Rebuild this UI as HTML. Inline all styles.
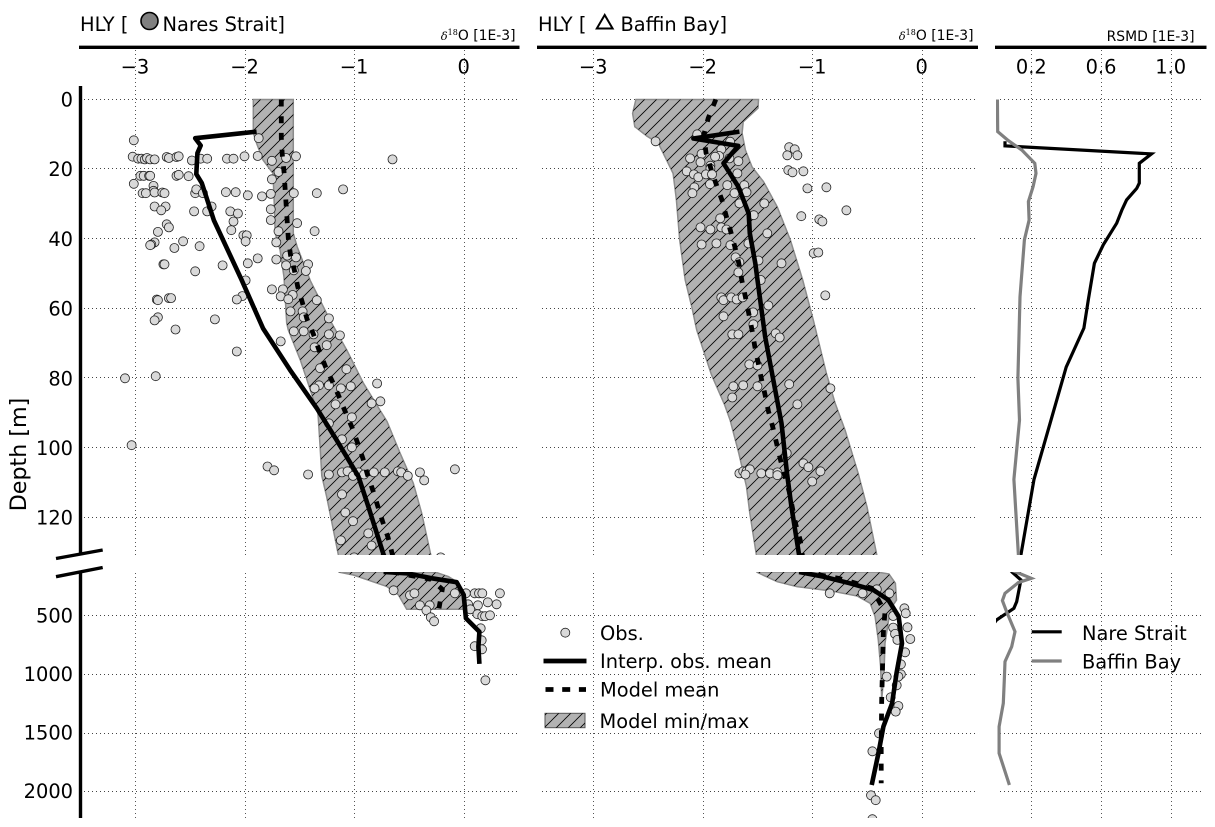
<!DOCTYPE html>
<html lang="en">
<head>
<meta charset="utf-8">
<title>HLY delta-18O depth profiles</title>
<style>
html,body{margin:0;padding:0;background:#fff;width:1215px;height:827px;overflow:hidden}
svg{display:block;font-family:"DejaVu Sans","Liberation Sans",sans-serif;fill:#000}
</style>
</head>
<body>
<svg id="chart" xmlns="http://www.w3.org/2000/svg" width="1215" height="827" viewBox="0 0 1215 827">
<defs>
<pattern id="hatch" patternUnits="userSpaceOnUse" width="12" height="12">
<path d="M-3,3 L3,-3 M0,12 L12,0 M9,15 L15,9" stroke="#000" stroke-width="0.8" fill="none"/>
</pattern>
<clipPath id="clip-nare-upper"><rect x="80" y="50" width="438" height="505"/></clipPath>
<clipPath id="clip-nare-lower"><rect x="80" y="572" width="438" height="246"/></clipPath>
<clipPath id="clip-baffin-upper"><rect x="538" y="50" width="438" height="505"/></clipPath>
<clipPath id="clip-baffin-lower"><rect x="538" y="572" width="438" height="246"/></clipPath>
<clipPath id="clip-rsmd-upper"><rect x="996" y="50" width="210" height="505"/></clipPath>
<clipPath id="clip-rsmd-lower"><rect x="996" y="572" width="210" height="246"/></clipPath>
</defs>
<g id="grid"></g>
<g id="plots"></g>
<g id="ticks" font-size="19.4"></g>

<g stroke="#000" fill="none">
<line x1="79" x2="519.5" y1="47.3" y2="47.3" stroke-width="3.4"/>
<line x1="537" x2="978" y1="47.3" y2="47.3" stroke-width="3.4"/>
<line x1="995" x2="1206.5" y1="47.3" y2="47.3" stroke-width="3.4"/>
<line x1="80.5" x2="80.5" y1="86" y2="555" stroke-width="3.4"/>
<line x1="80.5" x2="80.5" y1="572.5" y2="818" stroke-width="3.4"/>
<line x1="56" y1="558.5" x2="102.7" y2="550" stroke-width="3.4"/>
<line x1="56" y1="576.7" x2="102.7" y2="567.5" stroke-width="3.4"/>
</g>

<text transform="translate(26,454.5) rotate(-90)" text-anchor="middle" font-size="22.2">Depth [m]</text>

<text x="80" y="31" font-size="19.4">HLY [</text>
<circle cx="149.5" cy="21" r="8.5" fill="#808080" stroke="#000" stroke-width="1.6"/>
<text x="162.5" y="31" font-size="19.4">Nares Strait]</text>
<text x="515.5" y="40" text-anchor="end" font-size="13.9"><tspan font-family="'DejaVu Serif',serif" font-style="italic" font-size="11.5">δ</tspan><tspan font-family="'DejaVu Serif',serif" font-size="8" dy="-5">18</tspan><tspan dy="5">O [1E-3]</tspan></text>

<text x="538" y="31" font-size="19.4">HLY [</text>
<polygon points="604.7,15 596.8,28.5 612.6,28.5" fill="none" stroke="#000" stroke-width="2"/>
<text x="620.5" y="31" font-size="19.4">Baffin Bay]</text>
<text x="973.5" y="40" text-anchor="end" font-size="13.9"><tspan font-family="'DejaVu Serif',serif" font-style="italic" font-size="11.5">δ</tspan><tspan font-family="'DejaVu Serif',serif" font-size="8" dy="-5">18</tspan><tspan dy="5">O [1E-3]</tspan></text>

<text x="1194.5" y="41" text-anchor="end" font-size="13.9">RSMD [1E-3]</text>

<g font-size="19.4">
<g>
<circle cx="565.3" cy="632.7" r="4.5" fill="#d9d9d9" stroke="#222" stroke-width="0.8"/>
<text x="600" y="640">Obs.</text>
</g>
<g>
<line x1="543.5" x2="586.5" y1="661" y2="661" stroke="#000" stroke-width="4.8"/>
<text x="600" y="668">Interp. obs. mean</text>
</g>
<g>
<line x1="545.5" x2="586" y1="689.5" y2="689.5" stroke="#000" stroke-width="4.8" stroke-dasharray="8 8.7"/>
<text x="600" y="696.5">Model mean</text>
</g>
<g>
<rect x="545" y="713.3" width="40" height="14.4" fill="#b2b2b2" stroke="#555" stroke-width="1"/>
<rect x="545" y="713.3" width="40" height="14.4" fill="url(#hatch)"/>
<text x="599.5" y="728">Model min/max</text>
</g>
</g>

<g font-size="19.4">
<g>
<line x1="1031.7" x2="1061.7" y1="631.8" y2="631.8" stroke="#000" stroke-width="3.2"/>
<text x="1082" y="640">Nare Strait</text>
</g>
<g>
<line x1="1031.7" x2="1061.7" y1="661" y2="661" stroke="#808080" stroke-width="3.2"/>
<text x="1082" y="668.5">Baffin Bay</text>
</g>
</g>
</svg>

<script>
/* ---------- tick values ---------- */
const deltaTicks = [-3, -2, -1, 0];
const deltaTickLabels = ['\u22123', '\u22122', '\u22121', '0'];
const rsmdTicks = [0.2, 0.6, 1.0];
const rsmdTickLabels = ['0.2', '0.6', '1.0'];
const upperDepthTicks = [0, 20, 40, 60, 80, 100, 120];
const lowerDepthTicks = [500, 1000, 1500, 2000];

/* ---------- Nares Strait ---------- */
const nareObsDelta = [-3.01,-3.02,-2.97,-2.94,-2.91,-2.89,-2.86,-2.82,-2.71,-2.69,-2.62,-2.60,-2.48,-2.40,-2.34,-2.16,-2.10,-2.00,-1.88,-1.75,-1.62,-1.53,-0.65,-1.87,
-2.95,-2.92,-2.87,-2.86,-2.62,-2.60,-2.51,-1.69,-1.75,-3.01,-2.83,-2.83,-2.93,-2.90,-2.82,-2.75,-2.73,-2.45,-2.44,-2.38,-2.17,-2.08,-1.97,-1.84,-1.76,-1.55,-1.34,-1.10,
-2.82,-2.72,-2.76,-2.46,-2.34,-2.30,-2.13,-2.06,-1.76,-1.76,-2.10,-1.52,-2.71,-2.69,-2.79,-2.12,-1.36,-1.69,-2.01,-1.98,-1.99,-1.71,-2.56,-2.82,-2.85,-2.86,-2.64,-2.41,
-1.88,-1.71,-1.61,-1.53,-2.74,-2.73,-2.20,-1.97,-1.62,-1.42,-1.44,-1.55,-2.45,-1.99,
-1.75,-1.65,-1.56,-1.67,-1.60,-1.34,-2.02,-2.07,-2.80,-2.79,-2.69,-2.67,-1.58,-1.47,-1.46,-1.23,-2.79,-2.82,-2.27,-2.63,-1.55,-1.46,-1.37,-1.23,-1.13,-1.67,-2.07,-1.36,-1.25,
-1.31,-1.07,-3.09,-2.81,-0.79,-1.32,-1.23,-1.36,-1.12,-1.03,-1.17,-0.84,-0.76,-1.02,-1.23,-3.03,-1.11,-1.02,-1.79,-1.73,-1.42,-1.23,-1.11,-1.06,-1.01,-0.96,-0.91,-0.82,-0.72,-0.60,-0.57,-0.51,-0.40,-0.36,-0.08,
-1.11,-1.08,-1.01,-0.87,-1.12,-0.84,-1.00,-0.21,
-0.64,-0.49,-0.45,-0.08,-0.40,-0.31,-0.34,-0.30,-0.27,0.02,0.10,0.14,0.17,0.33,0.22,0.30,0.04,0.13,0.06,0.125,0.17,0.195,0.24,0.155,0.164,0.10,0.167,0.198];
const nareObsDepth = [11.7,16.4,17,17,17.2,16.8,17.2,17.2,16.5,16.8,16.5,16.3,17.5,17,17,17,17,16.3,16.2,17.6,16.8,16.3,17.2,11.1,
21.9,21.9,21.9,21.9,21.9,21.6,22,20.8,22.9,24.2,24.8,26.2,26.9,26.9,26.7,26.7,26.9,26.9,25.8,26.9,26.6,26.6,27.5,27.8,27.1,26.9,26.9,25.8,
30.7,30.7,31.8,32.1,32.1,30.7,32.1,32.7,31.5,34.6,35,35.5,35.8,36.7,38,37.5,37.8,37.8,39,39,40.7,41,40.7,41,41.6,41.8,42.6,42.1,
45.6,45.9,44.8,45.3,47.3,47.3,47.6,47,47.6,47.3,49.2,49,49.3,51.9,
54.5,54.5,56.1,56.5,57.3,57.6,56.4,57.4,57.4,57.6,57,57,60.8,60.8,62.5,62.8,62.5,63.4,63.1,66,66.5,66.5,67.4,67.4,67.7,69.4,72.3,71.1,70.5,
77.1,77.4,80,79.4,81.5,82,82,82.9,82.9,82.3,87.5,87.2,86.6,91.2,92.9,99.2,97.5,99.8,105.3,106.4,107.6,107.6,107,106.7,108,107,107.6,107,107,106.7,107,108,107,109.3,106.1,
113.3,118.5,121,124.5,126.5,128,131.4,131.4,
287,329,312,312,415,415,457,517,551,312,312,312,312,312,389,406,406,415,449,491,508,508,500,611,713,764,790,1055];
const nareMeanDelta = [-1.89,-2.45,-2.40,-2.43,-2.44,-2.39,-2.28,-2.03,-1.83,-1.585,-1.34,-1.16,-0.96,-0.87,-0.73,-0.52,-0.29,-0.064,0,0.02,0.143,0.134,0.143];
const nareMeanDepth = [9.2,11.1,13.2,15.4,21.4,24,34.6,51.5,65.7,77.6,88.6,97.7,108.2,116.8,130.7,142,184,218,326,526,640,767,915];
const nareModelDelta = [-1.664,-1.664,-1.655,-1.64,-1.62,-1.61,-1.60,-1.58,-1.545,-1.515,-1.47,-1.43,-1.37,-1.32,-1.265,-1.20,-1.14,-1.08,-1.02,-0.97,-0.92,-0.88,-0.83,-0.785,-0.74,-0.69,-0.65,-0.30,-0.195,-0.225];
const nareModelDepth = [0,11,16,20.7,30,35,39.8,44.6,49,53.7,58.5,63,67.4,71.9,76.4,80.8,85.1,89.6,94,98.4,103,107.5,112,116.6,121.1,125.7,130.7,193,278,440];
const nareMinDelta = [-1.92,-1.92,-1.89,-1.83,-1.74,-1.73,-1.72,-1.675,-1.64,-1.615,-1.60,-1.49,-1.42,-1.33,-1.326,-1.31,-1.295,-1.25,-1.143,-1.007,-0.90,-0.70,-0.596,-0.52];
const nareMinDepth = [0,9.5,12.6,17.4,21.2,28.8,38.4,43.2,51,64.2,66.1,74.8,81.4,90,91.9,99.6,108,114,130.7,156,190,255,326,449];
const nareMaxDelta = [-1.555,-1.555,-1.52,-1.40,-1.326,-1.22,-1.067,-0.915,-0.70,-0.58,-0.46,-0.383,-0.30,-0.246,-0.14,-0.064,-0.018,0];
const nareMaxDepth = [0,38.4,42.2,52,56.6,63.3,71.9,81.4,92.4,101.5,110.1,118.7,130.7,136,170,213,312,449];

/* ---------- Baffin Bay ---------- */
const baffinObsDelta = [-2.43,-2.05,-1.75,-2.01,-2.115,-1.83,-1.85,-1.887,-2.02,-1.756,-1.674,-1.93,-1.93,-2.146,-2.08,-2.04,-1.97,-1.915,-1.683,-2.076,-1.933,-1.775,-1.62,-2.094,-1.71,-1.60,-1.665,-1.437,
-1.21,-1.16,-1.227,-1.135,-1.218,-1.18,-1.08,-1.044,-0.87,-0.688,-1.10,-0.935,-0.907,-1.84,-1.534,-2.02,-1.93,-1.83,-1.784,-1.41,-2.01,-1.875,-1.747,-1.583,-0.986,-0.944,-1.70,-1.665,-1.49,-1.28,-1.674,-1.47,
-0.88,-1.83,-1.81,-1.74,-1.69,-1.635,-1.40,-1.54,-1.81,-1.537,-1.73,-1.674,-1.333,-1.297,-1.574,-1.50,-1.72,-1.63,-1.50,-1.21,-0.834,-1.73,-1.135,-1.233,-1.08,-1.035,-0.925,-1.0,-1.665,-1.63,-1.60,-1.57,-1.61,-1.465,-1.385,-1.318,-1.318,
-0.84,-0.54,-0.41,-0.295,-0.158,-0.146,-0.26,-0.13,-0.26,-0.243,-0.104,-0.222,-0.152,-0.19,-0.19,-0.213,-0.32,-0.228,-0.283,-0.213,-0.237,-0.39,-0.45,-0.463,-0.42,-0.45];
const baffinObsDepth = [12,10,12.1,15.6,16.9,14.3,16.2,16.4,18,16.9,17.7,19,19.8,20.6,21.5,22.3,21.5,21.5,21.2,25.2,24.3,24.6,24.6,26.9,26.9,26.6,29.8,29.8,
13.7,14.3,16,16,20.3,20.9,20.6,25.5,25.2,31.8,33.5,34.4,35,34.1,33.2,36.7,37.3,36.7,37.3,38.4,41.6,41.3,41.8,41.3,44.1,43.9,45.3,46.7,46.2,47,49.6,51.8,
56.2,56.8,57.6,56.8,57.4,56.8,59.1,61.1,62.2,64.5,67.4,67.4,67.1,68.3,76,76.3,82.3,82,82.3,81.7,82.9,85.5,87.5,101.5,104.4,105.5,106.7,109.6,107.3,106.7,106.7,106.1,107.6,107.3,107.3,107,107.8,
312,312,278,312,440,483,506,602,605,659,702,710,816,918,1003,1023,1023,1097,1200,1274,1322,1507,1660,2036,2078,2240];
const baffinMeanDelta = [-1.665,-2.085,-1.675,-1.81,-1.675,-1.58,-1.57,-1.52,-1.50,-1.43,-1.355,-1.28,-1.23,-1.19,-1.12,-0.90,-0.655,-0.44,-0.305,-0.21,-0.18,-0.23,-0.27,-0.35,-0.395,-0.457];
const baffinMeanDepth = [9.2,11.2,13.3,18.3,25,32.7,38.4,47,51.8,68,80.5,92.9,107.3,116.8,130.7,170,227,284,369,511,739,995,1251,1450,1678,1948];
const baffinModelDelta = [-1.88,-1.95,-1.99,-1.97,-1.925,-1.88,-1.825,-1.785,-1.745,-1.705,-1.67,-1.64,-1.61,-1.58,-1.55,-1.525,-1.495,-1.465,-1.43,-1.40,-1.36,-1.325,-1.29,-1.25,-1.21,-1.18,-1.15,-1.11,-1.09,-0.76,-0.60,-0.457,-0.335,-0.35,-0.356,-0.365,-0.37,-0.37];
const baffinModelDepth = [0,5.4,10.2,15.3,19.8,24,28.8,33.4,37.8,42.4,47,52.3,56.6,61.3,66.1,70.7,75.3,80,84.8,89.4,94,98.7,103.3,108,112.5,117.3,122,126.4,130.7,184,227,270,469,639,881,1222,1620,1933];
const baffinMinDelta = [-2.61,-2.64,-2.62,-2.51,-2.405,-2.27,-2.24,-2.21,-2.16,-2.10,-2.055,-1.92,-1.80,-1.75,-1.67,-1.60,-1.57,-1.51,-1.32,-1.14,-0.84,-0.59,-0.47,-0.426,-0.396,-0.375,-0.365];
const baffinMinDepth = [0,4,7.8,10.5,12.6,21.2,28.8,40.3,51.8,59.5,66.1,79,87.6,92,101.5,111.1,118.7,130.7,213,255,290,335,398,511,710,938,1222];
const baffinMaxDelta = [-1.49,-1.495,-1.63,-1.64,-1.61,-1.55,-1.445,-1.32,-1.20,-1.087,-0.99,-0.87,-0.79,-0.70,-0.58,-0.50,-0.41,-0.30,-0.24,-0.23,-0.27,-0.30,-0.335,-0.344,-0.365];
const baffinMaxDepth = [0,2.5,6.4,9.7,14.5,19.3,23.6,30.8,40.3,51.8,63.3,78.6,87.2,94.9,107.3,116.9,130.7,147,227,370,426,526,739,995,1222];

/* ---------- RSMD ---------- */
const rsmdNareValue = [0.049,0.049,0.89,0.82,0.82,0.805,0.747,0.72,0.69,0.613,0.562,0.527,0.502,0.40,0.215,0.14,0.097,0.14,0.116,0.10,0,-0.05];
const rsmdNareDepth = [12,13.3,15.6,18.3,24,25.5,28.8,31.7,35.5,41.7,47,57.5,65.6,76.8,109,130.7,142,198,383,440,540,640];
const rsmdBaffinValue = [0.005,0.007,0.068,0.145,0.22,0.227,0.21,0.183,0.187,0.16,0.135,0.123,0.132,0.10,0.126,0.116,0.20,0.125,0.049,0.034,0.058,0.106,0.087,0.049,0.045,0.039,0.015,0.015,0.074];
const rsmdBaffinDepth = [0,9.2,11.8,14.5,18.3,21.2,25,29.3,34.6,40.3,56.6,80,92,109,130.7,133,184,221,312,375,469,639,767,895,1052,1251,1450,1677,1948];

/* ---------- axis functions ---------- */
const SVG_NS = 'http://www.w3.org/2000/svg';
const BREAK_TOP = 131;
const BREAK_BOTTOM = 130.5;
const xNare = v => 463.7 + v * 109.6;
const xBaffin = v => 921.7 + v * 109.5;
const xRsmd = v => 996.5 + v * 174.2;
const yUpper = d => 99.5 + d * 3.485;
const yLower = d => 615.3 + (d - 500) * 0.1172;

function make(tag, parent, attrs) {
  const el = document.createElementNS(SVG_NS, tag);
  for (const k in attrs) el.setAttribute(k, attrs[k]);
  parent.appendChild(el);
  return el;
}
function interpolateAt(xs, ds, depth) {
  for (let i = 1; i < ds.length; i++) {
    if (ds[i - 1] <= depth && ds[i] >= depth) {
      const t = (depth - ds[i - 1]) / (ds[i] - ds[i - 1] || 1);
      return xs[i - 1] + t * (xs[i] - xs[i - 1]);
    }
  }
  return null;
}
/* keep only the part of a profile that belongs on one side of the axis break */
function slicePart(xs, ds, part) {
  const outX = [], outD = [];
  if (part === 'upper') {
    xs.forEach((v, i) => { if (ds[i] <= BREAK_TOP) { outX.push(v); outD.push(ds[i]); } });
    const cut = interpolateAt(xs, ds, BREAK_TOP);
    if (cut !== null && outD.length) { outX.push(cut); outD.push(BREAK_TOP); }
  } else {
    const cut = interpolateAt(xs, ds, BREAK_BOTTOM);
    if (cut !== null) { outX.push(cut); outD.push(BREAK_BOTTOM); }
    xs.forEach((v, i) => { if (ds[i] >= BREAK_BOTTOM) { outX.push(v); outD.push(ds[i]); } });
  }
  return [outX, outD];
}
function pathFrom(xs, ds, xScale, yScale) {
  return xs.map((v, i) => (i ? 'L' : 'M') + xScale(v).toFixed(1) + ',' + yScale(ds[i]).toFixed(1)).join(' ');
}

/* ---------- grid and tick labels ---------- */
const gridLayer = document.getElementById('grid');
const tickLayer = document.getElementById('ticks');
const panelAxes = [
  { id: 'nare', x0: 80, x1: 517, scale: xNare, ticks: deltaTicks, labels: deltaTickLabels },
  { id: 'baffin', x0: 538, x1: 975, scale: xBaffin, ticks: deltaTicks, labels: deltaTickLabels },
  { id: 'rsmd', x0: 996, x1: 1204, scale: xRsmd, ticks: rsmdTicks, labels: rsmdTickLabels }
];
const gridStyle = { stroke: '#444', 'stroke-width': 0.9, 'stroke-dasharray': '1 3', fill: 'none' };
panelAxes.forEach(p => {
  p.ticks.forEach((t, i) => {
    const px = Math.round(p.scale(t)) + 0.5;
    const upper = make('line', gridLayer, Object.assign({ x1: px, x2: px, y1: 50, y2: 555 }, gridStyle));
    
    
    const lower = make('line', gridLayer, Object.assign({ x1: px, x2: px, y1: 573, y2: 818 }, gridStyle));
    
    
    const label = make('text', tickLayer, { x: p.scale(t), y: 73.3, 'text-anchor': 'middle' });
    label.textContent = p.labels[i];
    
    
  });
  upperDepthTicks.forEach(d => {
    const py = Math.round(yUpper(d)) - 0.5;
    const line = make('line', gridLayer, Object.assign({ x1: p.x0 + 4, x2: p.x1, y1: py, y2: py }, gridStyle));
    
    
  });
  lowerDepthTicks.forEach(d => {
    const py = Math.round(yLower(d)) + 0.5;
    const line = make('line', gridLayer, Object.assign({ x1: p.x0 + 4, x2: p.x1, y1: py, y2: py }, gridStyle));
    
    
  });
});
upperDepthTicks.forEach(d => {
  const label = make('text', tickLayer, { x: 73, y: yUpper(d) + 7, 'text-anchor': 'end' });
  label.textContent = String(d);
  
  
});
lowerDepthTicks.forEach(d => {
  const label = make('text', tickLayer, { x: 73, y: yLower(d) + 7, 'text-anchor': 'end' });
  label.textContent = String(d);
  
  
});

/* ---------- series ---------- */
const plotLayer = document.getElementById('plots');

function drawProfilePanel(id, xScale, min, minD, max, maxD, obs, obsD, mean, meanD, model, modelD) {
  [[yUpper, 'upper'], [yLower, 'lower']].forEach(([yScale, part]) => {
    const group = make('g', plotLayer, { 'clip-path': 'url(#clip-' + id + '-' + part + ')' });
    
    

    const [minX, minY] = slicePart(min, minD, part);
    const [maxX, maxY] = slicePart(max, maxD, part);
    const minPath = pathFrom(minX, minY, xScale, yScale);
    const maxRev = pathFrom(maxX.slice().reverse(), maxY.slice().reverse(), xScale, yScale).replace(/^M/, 'L');
    const rangeD = minPath + ' ' + maxRev + ' Z';

    const band = make('path', group, { d: rangeD, fill: '#b2b2b2', stroke: '#8c8c8c', 'stroke-width': 1.5 });
    
    
    const hatch = make('path', group, { d: rangeD, fill: 'url(#hatch)', stroke: 'none' });
    
    

    obs.forEach((v, i) => {
      const inPart = part === 'upper' ? obsD[i] <= 132 : obsD[i] > 132;
      if (!inPart) return;
      const dot = make('circle', group, { cx: xScale(v).toFixed(1), cy: yScale(obsD[i]).toFixed(1), r: 4.5, fill: '#d9d9d9', stroke: '#222', 'stroke-width': 0.8 });
      
      
    });

    const [modelX, modelY] = slicePart(model, modelD, part);
    const modelLine = make('path', group, { d: pathFrom(modelX, modelY, xScale, yScale), fill: 'none', stroke: '#000', 'stroke-width': 4.8, 'stroke-dasharray': '7 9.7' });
    
    

    const [meanX, meanY] = slicePart(mean, meanD, part);
    const meanLine = make('path', group, { d: pathFrom(meanX, meanY, xScale, yScale), fill: 'none', stroke: '#000', 'stroke-width': 4.6, 'stroke-linejoin': 'round' });
    
    
  });
}

drawProfilePanel('nare', xNare, nareMinDelta, nareMinDepth, nareMaxDelta, nareMaxDepth, nareObsDelta, nareObsDepth, nareMeanDelta, nareMeanDepth, nareModelDelta, nareModelDepth);
drawProfilePanel('baffin', xBaffin, baffinMinDelta, baffinMinDepth, baffinMaxDelta, baffinMaxDepth, baffinObsDelta, baffinObsDepth, baffinMeanDelta, baffinMeanDepth, baffinModelDelta, baffinModelDepth);

[[yUpper, 'upper'], [yLower, 'lower']].forEach(([yScale, part]) => {
  const group = make('g', plotLayer, { 'clip-path': 'url(#clip-rsmd-' + part + ')' });
  
  
  const [nareX, nareY] = slicePart(rsmdNareValue, rsmdNareDepth, part);
  const nareLine = make('path', group, { d: pathFrom(nareX, nareY, xRsmd, yScale), fill: 'none', stroke: '#000', 'stroke-width': 3.2 });
  
  
  const [baffinX, baffinY] = slicePart(rsmdBaffinValue, rsmdBaffinDepth, part);
  const baffinLine = make('path', group, { d: pathFrom(baffinX, baffinY, xRsmd, yScale), fill: 'none', stroke: '#808080', 'stroke-width': 3.2 });
  
  
});
</script>
</body>
</html>
